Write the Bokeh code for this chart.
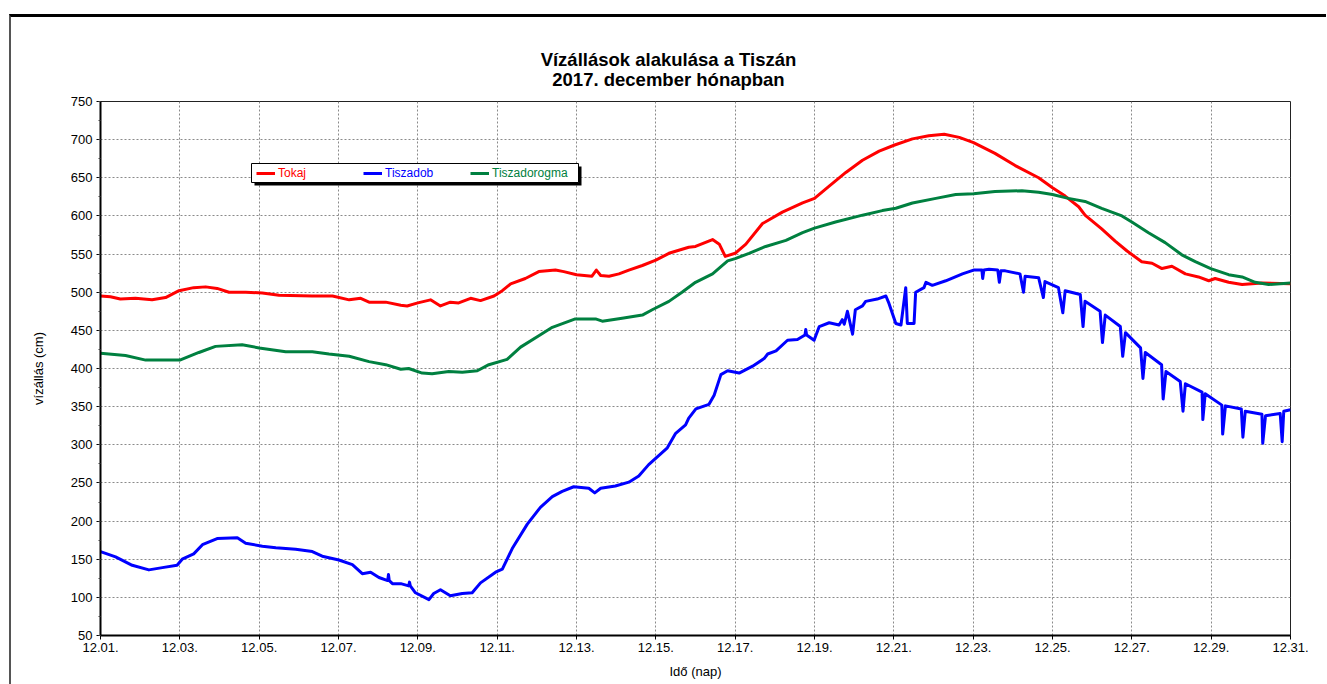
from bokeh.plotting import figure
from bokeh.layouts import column
from bokeh.models import (Div, Legend, LegendItem, BoxAnnotation, FixedTicker,
                          SingleIntervalTicker, Range1d)
from bokeh.embed import file_html
from bokeh.resources import INLINE

# ---------------- data (day of December, water level in cm) ----------------
tokaj_day = [1.0, 1.25, 1.5, 1.88, 2.3, 2.64, 2.98, 3.35, 3.65, 3.94, 4.24, 4.66, 5.08, 5.5,
             6.34, 6.85, 7.27, 7.56, 7.77, 8.19, 8.57, 8.73, 9.0, 9.32, 9.57, 9.82, 10.03,
             10.33, 10.58, 10.92, 11.13, 11.34, 11.71, 12.05, 12.47, 12.68, 13.0, 13.39, 13.5,
             13.61, 13.82, 14.07, 14.32, 14.66, 15.0, 15.33, 15.83, 16.0, 16.43, 16.6, 16.75,
             17.0, 17.27, 17.69, 18.19, 18.7, 19.0, 19.37, 19.79, 20.21, 20.63, 21.02, 21.47,
             21.88, 22.27, 22.65, 23.01, 23.55, 24.06, 24.65, 25.0, 25.32, 25.66, 25.82, 26.24,
             26.58, 26.88, 27.25, 27.51, 27.76, 28.01, 28.35, 28.68, 28.94, 29.1, 29.44, 29.78,
             30.28, 31.0]
tokaj_cm = [495, 494, 491, 492, 490, 493, 502, 506, 507, 505, 500, 500, 499, 496,
            495, 495, 490, 492, 487, 487, 483, 482, 486, 490, 482, 487, 486,
            492, 489, 495, 502, 511, 518, 527, 529, 527, 523, 521, 529,
            522, 521, 524, 529, 535, 542, 551, 559, 560, 569, 563, 547,
            551, 563, 590, 605, 617, 623, 639, 657, 673, 685, 693, 701,
            705, 707, 703, 696, 682, 666, 650, 637, 626, 612, 601, 583,
            567, 554, 540, 538, 531, 534, 524, 520, 515, 518, 513, 510,
            512, 511]

tiszadob_day = [1.0, 1.38, 1.8, 2.22, 2.56, 2.93, 3.06, 3.35, 3.57, 3.94, 4.45, 4.66, 5.08,
                5.42, 5.92, 6.34, 6.59, 7.01, 7.35, 7.6, 7.81, 8.02, 8.24, 8.26, 8.28, 8.36,
                8.57, 8.77, 8.79, 8.81, 8.94, 9.28, 9.4, 9.57, 9.82, 10.12, 10.37, 10.58,
                10.96, 11.13, 11.38, 11.76, 12.09, 12.39, 12.64, 12.93, 13.31, 13.46, 13.61,
                13.98, 14.32, 14.57, 14.82, 15.08, 15.29, 15.5, 15.75, 15.83, 16.01, 16.34,
                16.47, 16.64, 16.81, 17.1, 17.44, 17.73, 17.82, 18.03, 18.32, 18.57, 18.76,
                18.78, 18.8, 18.99, 19.12, 19.37, 19.62, 19.7, 19.75, 19.83, 19.96, 20.03,
                20.21, 20.29, 20.58, 20.8, 20.88, 21.05, 21.18, 21.3, 21.34, 21.51, 21.55,
                21.76, 21.81, 21.97, 22.31, 22.73, 23.01, 23.22, 23.24, 23.27, 23.4, 23.62,
                23.66, 23.7, 23.81, 24.18, 24.27, 24.31, 24.65, 24.77, 24.81, 25.15, 25.26,
                25.32, 25.7, 25.77, 25.82, 26.2, 26.26, 26.33, 26.71, 26.77, 26.84, 27.22,
                27.28, 27.34, 27.75, 27.79, 27.86, 28.22, 28.29, 28.35, 28.77, 28.79, 28.85,
                29.27, 29.29, 29.36, 29.76, 29.8, 29.86, 30.28, 30.3, 30.37, 30.74, 30.79,
                30.83, 31.0]
tiszadob_cm = [160, 153, 142, 136, 139, 142, 150, 157, 169, 177, 178, 171, 167,
               165, 163, 160, 154, 149, 143, 131, 133, 126, 122, 130, 122, 118,
               118, 115, 120, 115, 106, 97, 105, 110, 102, 105, 106, 119,
               133, 137, 164, 196, 218, 232, 239, 245, 243, 237, 243,
               246, 251, 259, 274, 286, 296, 315, 326, 335, 347, 353,
               365, 392, 397, 394, 403, 413, 419, 423, 437, 438, 444,
               451, 444, 437, 455, 460, 457, 464, 458, 475, 445, 477,
               482, 488, 491, 495, 485, 459, 457, 506, 459, 459, 500,
               506, 513, 509, 515, 524, 529, 529, 518, 529, 530, 529,
               513, 528, 528, 524, 500, 521, 519, 493, 514, 506, 473,
               502, 497, 455, 488, 475, 434, 470, 455, 416, 447, 427,
               387, 421, 405, 360, 396, 383, 344, 380, 369, 333, 367,
               352, 314, 351, 347, 310, 344, 340, 302, 338, 341, 304,
               344, 346]

tiszadorogma_day = [1.0, 1.63, 2.14, 3.0, 3.48, 3.9, 4.57, 5.0, 5.67, 6.34, 6.76, 7.27, 7.77,
                    8.19, 8.57, 8.77, 9.11, 9.36, 9.78, 10.12, 10.5, 10.79, 11.25, 11.59,
                    12.05, 12.39, 12.97, 13.48, 13.65, 14.15, 14.66, 14.91, 15.33, 15.66,
                    16.0, 16.43, 16.81, 17.0, 17.35, 17.77, 18.28, 18.7, 19.0, 19.53, 20.21,
                    20.71, 21.05, 21.47, 22.06, 22.56, 23.01, 23.55, 24.23, 24.65, 25.0,
                    25.4, 25.82, 26.24, 26.75, 27.0, 27.42, 27.84, 28.26, 28.6, 28.99,
                    29.44, 29.78, 30.11, 30.45, 31.0]
tiszadorogma_cm = [420, 417, 411, 411, 421, 429, 431, 427, 422, 422, 419, 416, 409,
                   405, 399, 400, 394, 393, 396, 395, 397, 405, 412, 428,
                   443, 454, 465, 465, 462, 466, 470, 477, 488, 500,
                   513, 524, 541, 544, 551, 560, 568, 578, 584, 592, 601,
                   607, 610, 617, 623, 628, 629, 632, 633, 631, 628,
                   623, 619, 610, 600, 592, 578, 565, 549, 540, 531,
                   523, 520, 513, 510, 512]

x_tick_days = [1, 3, 5, 7, 9, 11, 13, 15, 17, 19, 21, 23, 25, 27, 29, 31]
x_tick_labels = ["12.01.", "12.03.", "12.05.", "12.07.", "12.09.", "12.11.", "12.13.",
                 "12.15.", "12.17.", "12.19.", "12.21.", "12.23.", "12.25.", "12.27.",
                 "12.29.", "12.31."]
series_names = ["Tokaj", "Tiszadob", "Tiszadorogma"]
series_colors = ["#ff0000", "#0000ff", "#008040"]
title_lines = ["Vízállások alakulása a Tiszán", "2017. december hónapban"]

FONT = "Liberation Sans"

W = 1315
HD = 74
HP = 593

title = Div(text="<div style='margin-top:33px;line-height:20px;text-align:center;'>"
                 + "<br>".join(title_lines) + "</div>",
            width=W, height=HD, margin=0,
            styles={"font-family": FONT, "font-weight": "bold", "font-size": "18.5px",
                    "color": "black", "text-align": "center"})

p = figure(width=W, height=HP, title=None,
           x_range=Range1d(1, 31), y_range=Range1d(50, 750),
           output_backend="svg", toolbar_location=None,
           min_border_left=89, min_border_right=36, min_border_top=10, min_border_bottom=49)
p.margin = 0
p.background_fill_color = "white"
p.border_fill_color = "white"
p.outline_line_color = "#222222"
p.outline_line_width = 1

# axes
p.xaxis.ticker = FixedTicker(ticks=x_tick_days)
p.xaxis.major_label_overrides = {d: lab for d, lab in zip(x_tick_days, x_tick_labels)}
p.yaxis.ticker = SingleIntervalTicker(interval=50, num_minor_ticks=2)
for ax in (p.xaxis[0], p.yaxis[0]):
    ax.axis_line_width = 2
    ax.axis_line_color = "black"
    ax.major_tick_line_color = "black"
    ax.major_tick_in = 0
    ax.major_tick_out = 4
    ax.minor_tick_in = 0
    ax.minor_tick_out = 2
    ax.minor_tick_line_color = "#444444"
    ax.major_label_text_font = FONT
    ax.major_label_text_font_size = "13px"
    ax.major_label_text_color = "black"
    ax.axis_label_text_font = FONT
    ax.axis_label_text_font_size = "13px"
    ax.axis_label_text_font_style = "normal"
    ax.axis_label_text_color = "black"
p.xaxis.minor_tick_line_color = None
p.xaxis.major_label_standoff = 3
p.yaxis.major_label_standoff = 4
p.xaxis.axis_label = "Idő (nap)"
p.xaxis.axis_label_standoff = 9
p.yaxis.axis_label = "vízállás (cm)"
p.yaxis.axis_label_standoff = 22

# grid
p.xgrid.ticker = FixedTicker(ticks=x_tick_days)
for g in (p.xgrid[0], p.ygrid[0]):
    g.grid_line_color = "#8a8a8a"
    g.grid_line_dash = "2 2"
    g.grid_line_width = 1

# series
renderers = []
for xs, ys, col in ((tokaj_day, tokaj_cm, series_colors[0]),
                    (tiszadob_day, tiszadob_cm, series_colors[1]),
                    (tiszadorogma_day, tiszadorogma_cm, series_colors[2])):
    r = p.line(xs, ys, line_color=col, line_width=3, line_join="round")
    renderers.append(r)

# legend box with shadow (screen units relative to frame)
shadow = BoxAnnotation(left=154, right=481, top=469, bottom=450,
                       left_units="screen", right_units="screen",
                       top_units="screen", bottom_units="screen",
                       fill_color="black", fill_alpha=1, line_alpha=0)
box = BoxAnnotation(left=151, right=478, top=472, bottom=453,
                    left_units="screen", right_units="screen",
                    top_units="screen", bottom_units="screen",
                    fill_color="white", fill_alpha=1, line_color="black",
                    line_alpha=1, line_width=1)
p.add_layout(shadow)
p.add_layout(box)

leg_x = [156, 263, 370]
for name, col, r, lx in zip(series_names, series_colors, renderers, leg_x):
    leg = Legend(items=[LegendItem(label=name, renderers=[r])], location=(lx, 452),
                 orientation="horizontal", border_line_alpha=0, background_fill_alpha=0,
                 padding=0, margin=0, spacing=0, glyph_width=19, glyph_height=20,
                 label_height=20, label_standoff=3, label_text_font=FONT,
                 label_text_font_size="12px", label_text_color=col)
    p.add_layout(leg)

layout = column(title, p, spacing=0)
layout.margin = (14, 0, 0, 9)
layout.styles = {"border-top": "3px solid #000000", "border-left": "2px solid #555555",
                 "background-color": "white"}

open("out.html", "w").write(file_html(layout, INLINE))
